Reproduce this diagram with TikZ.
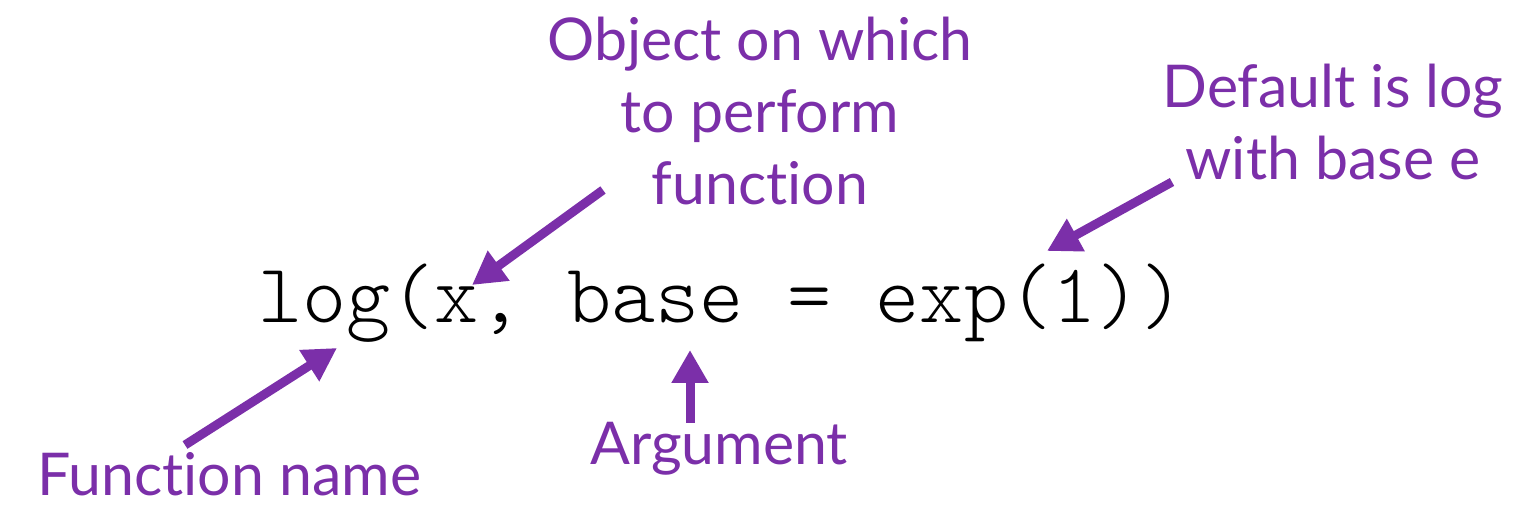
\documentclass[tikz,border=0pt]{standalone}
\usepackage{fontspec}
\setmainfont{Lato}[Ligatures=NoCommon]
\setmonofont{Latin Modern Mono Light}
\usepackage{xcolor}
\usetikzlibrary{arrows.meta,positioning}
\definecolor{callout}{HTML}{7B2FA9}

\tikzset{
  note/.style={text=callout,inner sep=0pt,font=\fontsize{29.5}{36}\selectfont},
  pointer/.style={draw=callout,line width=4.5pt,-{Triangle[length=16.5pt,width=17.5pt]}}
}

\begin{document}
\begin{tikzpicture}[x=0.5pt,y=-0.5pt]
\useasboundingbox (0,0) rectangle (1532,512);
\node[anchor=base west,inner sep=0pt,font=\fontsize{42}{46}\ttfamily] (code) at (258,323) {log(x, base = exp(1))};
% labels
\node[note,anchor=base west] (fname) at (37,496) {Function name};
\node[note,anchor=base west] (arg) at (590,465) {Argument};
\node[note,anchor=base,align=center] (obj) at (760,205) {Object on which\\to perform\\function};
\node[note,anchor=base,align=center] (dflt) at (1333,180) {Default is log\\with base e};
% arrows
\coordinate (fname tail) at (185,445);
\coordinate (fname tip) at (337,348);
\coordinate (obj tail) at (603,190);
\coordinate (obj tip) at (472,285);
\coordinate (arg tail) at (690,423);
\coordinate (arg tip) at (690,350);
\coordinate (dflt tail) at (1172,182);
\coordinate (dflt tip) at (1047,251);
\draw[pointer] (fname tail) -- (fname tip);
\draw[pointer] (obj tail) -- (obj tip);
\draw[pointer] (arg tail) -- (arg tip);
\draw[pointer] (dflt tail) -- (dflt tip);
\end{tikzpicture}
\end{document}
